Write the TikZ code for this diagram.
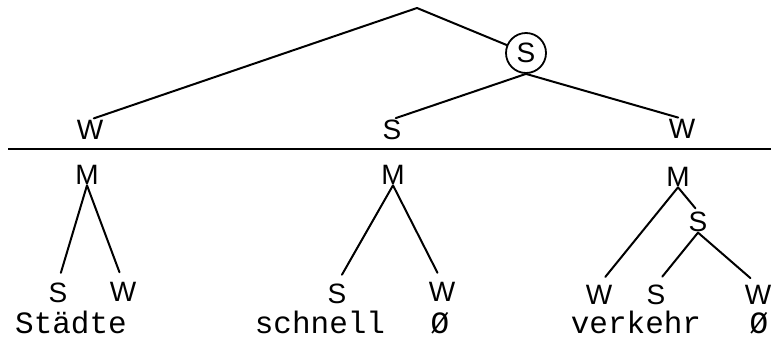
\documentclass[tikz,border=0pt]{standalone}
\usepackage{fontspec}
\setmainfont{Liberation Serif}
\setsansfont{Liberation Sans}
\setmonofont{Liberation Mono}

\begin{document}
\begin{tikzpicture}[x=1pt, y=-1pt]
    \tikzset{
      sym/.style={inner sep=0.5pt, font=\sffamily\fontsize{28}{28}\selectfont},
      head/.style={sym, circle, draw, line width=1.8pt, minimum size=40pt, inner sep=0pt},
      word/.style={anchor=base, inner sep=0pt, text height=19pt,
        font=\ttfamily\fontsize{31}{31}\selectfont},
      branch/.style={line width=2pt, line cap=round, shorten >=4pt},
      leaf/.style={branch, shorten >=10pt}
    }
    \useasboundingbox (0,0) rectangle (771,338);
    % upper tree
    \coordinate (root) at (417,8);
    \node[head] (s0) at (526,53) {S};
    \node[sym] (w1) at (90,130) {W};
    \node[sym] (s1) at (392,130) {S};
    \node[sym] (w2) at (682,129) {W};
    \draw[branch] (root) -- (w1.north);
    \draw[branch, shorten >=0pt] (root) -- (s0);
    \draw[branch] (s0.south) -- (s1.north);
    \draw[branch] (s0.south) -- (w2.north);
    % rule
    \coordinate (ruleL) at (8,149);
    \coordinate (ruleR) at (771,149);
    \draw[line width=2.2pt] (ruleL) -- (ruleR);
    % lower trees
    \node[sym] (m1) at (87,175) {M};
    \node[sym] (m2) at (393,175) {M};
    \node[sym] (m3) at (678,177) {M};
    \node[sym] (a1) at (58,293) {S};
    \node[sym] (a2) at (123,292) {W};
    \node[sym] (b1) at (337,294) {S};
    \node[sym] (b2) at (442,292) {W};
    \node[sym] (c0) at (698,222) {S};
    \node[sym] (c1) at (599,295) {W};
    \node[sym] (c2) at (656,295) {S};
    \node[sym] (c3) at (758,295) {W};
    \draw[leaf] (m1.south) -- (a1.north);
    \draw[leaf] (m1.south) -- (a2.north);
    \draw[leaf] (m2.south) -- (b1.north);
    \draw[leaf] (m2.south) -- (b2.north);
    \draw[leaf] (m3.south) -- (c1.north);
    \draw[branch] (m3.south) -- (c0.north);
    \draw[leaf] (c0.south) -- (c2.north);
    \draw[leaf] (c0.south) -- (c3.north);
    % words
    \node[word] (t1) at (71,333) {Städte};
    \node[word] (t2) at (320,333) {schnell};
    \node[word] (t3) at (440,333) {Ø};
    \node[word] (t4) at (636,333) {verkehr};
    \node[word] (t5) at (759,333) {Ø};
\end{tikzpicture}
\end{document}
